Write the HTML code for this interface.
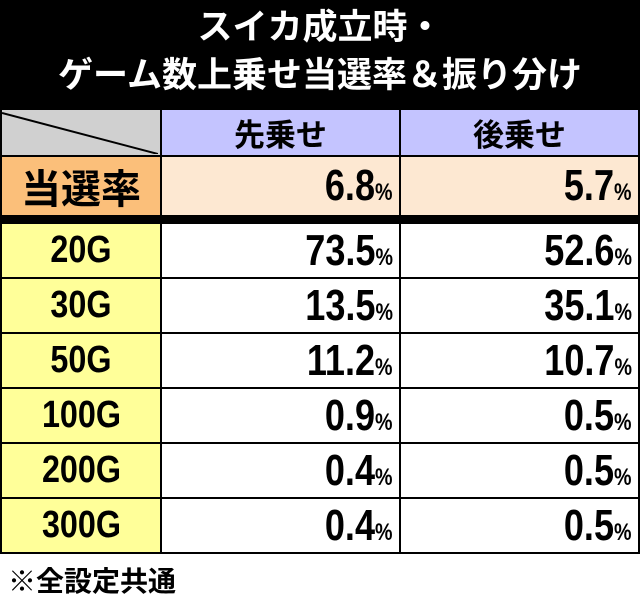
<!DOCTYPE html>
<html><head><meta charset="utf-8"><style>
body{margin:0;width:640px;height:601px;background:#fff;overflow:hidden;font-family:"Liberation Sans","Noto Sans CJK JP",sans-serif;font-weight:bold}
#title{position:absolute;left:0;top:0;width:640px;height:110px;background:#000;color:#fff;text-align:center;font-size:35px;line-height:48px;padding-top:4px;box-sizing:border-box}
table{position:absolute;left:0;top:108px;border-collapse:collapse;background:#000}
td{border:2px solid #000;padding:0;box-sizing:border-box}
.c0{width:160px;text-align:center;font-size:34px}
.c1{width:240px}.c2{width:240px}
.num{text-align:right;padding-right:6px}
.t{display:inline-block;font-size:44px;transform:scaleX(0.82);transform-origin:right center;white-space:nowrap}
.t span{font-size:24px}
.lb{display:inline-block;font-size:38px;transform:scaleX(0.85)}
.hd{background:#c4c4ff;text-align:center;font-size:31px;height:47px}
.rate td{background:#fde8d2;height:55px}
.rate td.c0{background:#fbbf7a}
.gap td{height:7px;background:#000;border:0;padding:0}
.row td{background:#fff;height:55px}
.row td.c0{background:#ffff99}
#note{position:absolute;left:8px;top:560px;font-size:28px;color:#000}
</style></head><body>
<div id="title">スイカ成立時・<br>ゲーム数上乗せ当選率＆振り分け</div>
<table>
<tr><td class="c0" style="background:#d0d0d0;height:47px"><svg width="156" height="43" style="display:block"><line x1="0" y1="2" x2="156" y2="43" stroke="#000" stroke-width="2"/></svg></td>
<td class="hd c1">先乗せ</td>
<td class="hd c2">後乗せ</td></tr>
<tr class="rate"><td class="c0" style="font-size:40px">当選率</td>
<td class="num"><span class="t">6.8<span>%</span></span></td>
<td class="num"><span class="t">5.7<span>%</span></span></td></tr>
<tr class="gap"><td colspan="3"></td></tr>
<tr class="row"><td class="c0"><span class="lb">20G</span></td><td class="num"><span class="t">73.5<span>%</span></span></td><td class="num"><span class="t">52.6<span>%</span></span></td></tr>
<tr class="row"><td class="c0"><span class="lb">30G</span></td><td class="num"><span class="t">13.5<span>%</span></span></td><td class="num"><span class="t">35.1<span>%</span></span></td></tr>
<tr class="row"><td class="c0"><span class="lb">50G</span></td><td class="num"><span class="t">11.2<span>%</span></span></td><td class="num"><span class="t">10.7<span>%</span></span></td></tr>
<tr class="row"><td class="c0"><span class="lb">100G</span></td><td class="num"><span class="t">0.9<span>%</span></span></td><td class="num"><span class="t">0.5<span>%</span></span></td></tr>
<tr class="row"><td class="c0"><span class="lb">200G</span></td><td class="num"><span class="t">0.4<span>%</span></span></td><td class="num"><span class="t">0.5<span>%</span></span></td></tr>
<tr class="row"><td class="c0"><span class="lb">300G</span></td><td class="num"><span class="t">0.4<span>%</span></span></td><td class="num"><span class="t">0.5<span>%</span></span></td></tr>
</table>
<div id="note">※全設定共通</div>
</body></html>
